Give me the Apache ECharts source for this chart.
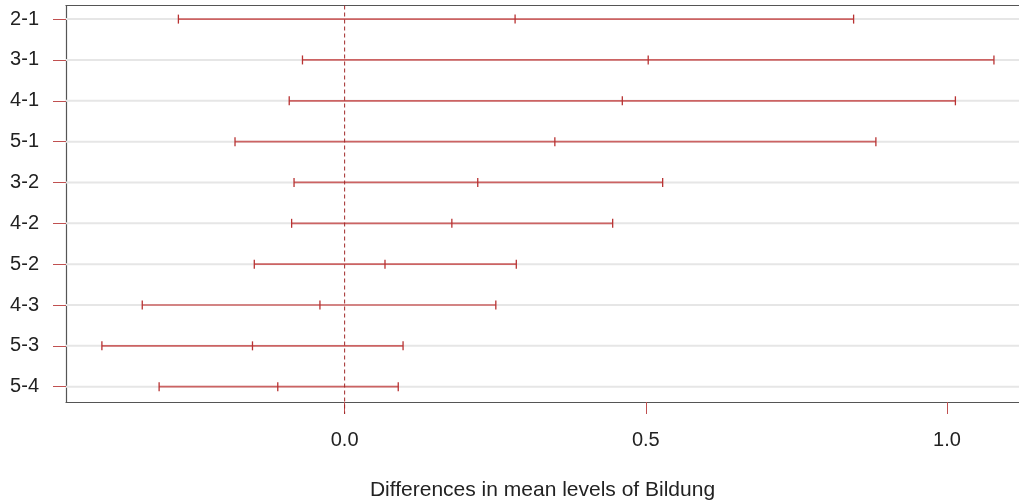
<!DOCTYPE html>
<html>
<head>
<meta charset="utf-8">
<script src="https://cdn.jsdelivr.net/npm/echarts@6/dist/echarts.min.js"></script>
<style>html,body{margin:0;padding:0;background:#fff}#chart{width:1019px;height:504px}</style>
</head>
<body>
<div id="chart"></div>
<script>
const comparisons = ['2-1','3-1','4-1','5-1','3-2','4-2','5-2','4-3','5-3','5-4'];
const diffs  = [0.283, 0.504, 0.461, 0.349, 0.221, 0.178, 0.067, -0.041, -0.153, -0.111];
const lowers = [-0.276, -0.070, -0.092, -0.182, -0.084, -0.088, -0.150, -0.336, -0.403, -0.308];
const uppers = [0.845, 1.078, 1.014, 0.882, 0.528, 0.445, 0.285, 0.251, 0.097, 0.089];
const xTicks = [0, 0.5, 1.0];
const xAxisTitle = 'Differences in mean levels of Bildung';

const rowIdx = comparisons.map((_, i) => i);
const data = comparisons.map((c, i) => [i, lowers[i], diffs[i], uppers[i]]);
const FONT = "'Liberation Sans', Arial, sans-serif";
const XMIN = -0.4626, XMAX = 1.1196;

const chart = echarts.init(document.getElementById('chart'), null, {renderer: 'canvas'});
chart.setOption({
  animation: false,
  backgroundColor: '#fff',
  grid: {left: 66, right: 0, top: 5.5, bottom: 102, show: false, containLabel: false, outerBoundsMode: 'none'},
  xAxis: [{
    type: 'value', min: XMIN, max: XMAX, position: 'bottom',
    axisLine: {show: true, onZero: false, lineStyle: {color: '#555', width: 1.2}},
    splitLine: {show: false},
    axisTick: {show: true, customValues: xTicks, length: 12, lineStyle: {color: '#c05050', width: 1}},
    axisLabel: {customValues: xTicks, formatter: v => Number(v).toFixed(1), fontSize: 20, margin: 28, color: '#222', fontFamily: FONT},
    name: xAxisTitle, nameLocation: 'middle', nameGap: 78,
    nameTextStyle: {fontSize: 21, color: '#222', fontFamily: FONT}
  }, {
    type: 'value', min: XMIN, max: XMAX, position: 'top',
    axisLine: {show: true, onZero: false, lineStyle: {color: '#555', width: 1.2}},
    splitLine: {show: false}, axisTick: {show: false}, axisLabel: {show: false}
  }],
  yAxis: {
    type: 'value', inverse: true, min: -0.333, max: 9.375,
    axisLine: {show: true, onZero: false, lineStyle: {color: '#555', width: 1.2}},
    splitLine: {show: false},
    axisTick: {show: true, customValues: rowIdx, length: 13, lineStyle: {color: '#c05050', width: 1}},
    axisLabel: {customValues: rowIdx, formatter: v => comparisons[Math.round(v)], fontSize: 20, margin: 27, color: '#222', fontFamily: FONT}
  },
  series: [
    {
      type: 'custom',
      data: data,
      encode: {x: [1, 2, 3], y: 0},
      z: 1,
      renderItem: function (params, api) {
        const cs = params.coordSys;
        const i = api.value(0);
        const pL = api.coord([api.value(1), i]);
        const pM = api.coord([api.value(2), i]);
        const pU = api.coord([api.value(3), i]);
        const y = pL[1];
        const h = 4.5;
        const tick = (x) => ({type: 'line', shape: {x1: x, y1: y - h, x2: x, y2: y + h}, style: {stroke: '#b83232', lineWidth: 1.3}});
        return {
          type: 'group',
          children: [
            {type: 'line', shape: {x1: cs.x, y1: y, x2: cs.x + cs.width, y2: y}, style: {stroke: '#e6e6e6', lineWidth: 2}},
            {type: 'line', shape: {x1: pL[0], y1: y, x2: pU[0], y2: y}, style: {stroke: '#cc6363', lineWidth: 1.7}},
            tick(pL[0]), tick(pM[0]), tick(pU[0])
          ]
        };
      }
    },
    {
      type: 'custom',
      data: [[0]],
      encode: {x: 0},
      z: 3,
      renderItem: function (params, api) {
        const cs = params.coordSys;
        const p = api.coord([0, 0]);
        return {type: 'line', shape: {x1: p[0], y1: cs.y, x2: p[0], y2: cs.y + cs.height + 12},
          style: {stroke: '#a02828', lineWidth: 1, lineDash: [4, 3]}};
      }
    }
  ]
});
</script>
</body>
</html>
